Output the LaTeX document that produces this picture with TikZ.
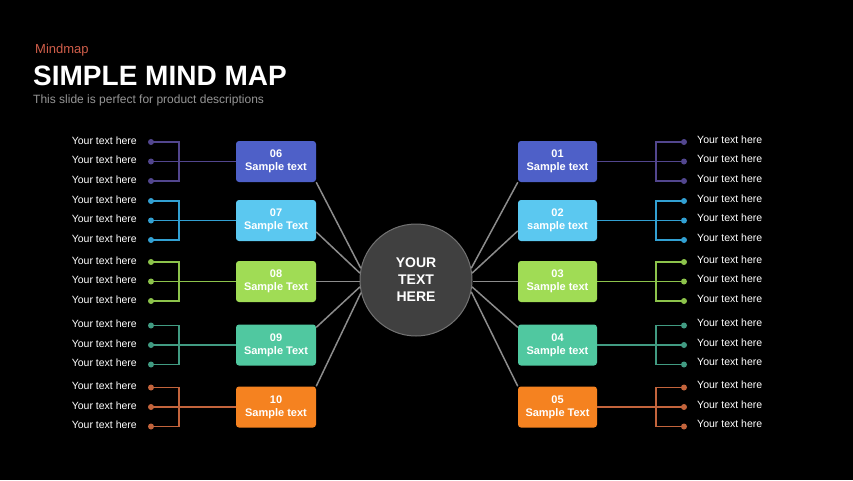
\documentclass[tikz,border=0pt]{standalone}
\usepackage{fontspec}
\setmainfont{Liberation Sans}
\usetikzlibrary{calc}
\definecolor{cAbox}{RGB}{78,96,200}
\definecolor{cAln}{RGB}{82,70,142}
\definecolor{cBbox}{RGB}{91,200,240}
\definecolor{cBln}{RGB}{50,160,210}
\definecolor{cCbox}{RGB}{160,220,85}
\definecolor{cCln}{RGB}{140,195,75}
\definecolor{cDbox}{RGB}{80,200,160}
\definecolor{cDln}{RGB}{65,155,130}
\definecolor{cEbox}{RGB}{245,130,32}
\definecolor{cEln}{RGB}{195,100,60}
\definecolor{spokegray}{RGB}{140,140,140}
\definecolor{hubfill}{RGB}{64,64,64}
\definecolor{hubdraw}{RGB}{115,115,115}
\definecolor{kicker}{RGB}{208,94,74}
\definecolor{subgray}{RGB}{150,150,150}
\tikzset{
  box/.style={rounded corners=3pt, minimum width=80pt, minimum height=41pt, inner sep=0pt,
    text=white, font=\bfseries\fontsize{11}{13}\selectfont, align=center},
  dotn/.style={circle, inner sep=0pt, minimum size=6pt},
  item/.style={text=white, font=\fontsize{10.5}{12}\selectfont, inner sep=0pt},
  spoke/.style={draw=spokegray, line width=1.5pt},
  branch/.style={line width=1.9pt},
}
\newcommand\leftgrp[5]{%
  \node[box, fill=#4] (b#1) at (276,#2) {#3};
  \foreach \k/\dy in {a/-19.5,b/0,c/19.5} {
    \node[dotn, fill=#5] (d#1\k) at (151,#2+\dy) {};
    \node[item, anchor=east] (t#1\k) at (137,#2+\dy-1.5) {Your text here};
  }
  \coordinate (k#1) at (179,#2);
  \draw[branch, draw=#5] (d#1a.center) -- (d#1a -| k#1) -- (d#1c -| k#1) -- (d#1c.center);
  \draw[branch, draw=#5] (d#1b.center) -- (b#1.west);
}
\newcommand\rightgrp[5]{%
  \node[box, fill=#4, minimum width=79pt] (b#1) at (557.5,#2) {#3};
  \foreach \k/\dy in {a/-19.5,b/0,c/19.5} {
    \node[dotn, fill=#5] (d#1\k) at (684,#2+\dy) {};
    \node[item, anchor=west] (t#1\k) at (697,#2+\dy-2.5) {Your text here};
  }
  \coordinate (k#1) at (656,#2);
  \draw[branch, draw=#5] (d#1a.center) -- (d#1a -| k#1) -- (d#1c -| k#1) -- (d#1c.center);
  \draw[branch, draw=#5] (d#1b.center) -- (b#1.east);
}
\begin{document}
\begin{tikzpicture}[x=1pt,y=-1pt]
\fill[black] (0,0) rectangle (853,480);
\useasboundingbox (0,0) rectangle (853,480);

\node[anchor=base west, inner sep=0pt, text=kicker, font=\fontsize{13}{15}\selectfont] (kick) at (35,53) {Mindmap};
\node[anchor=base west, inner sep=0pt, text=white, font=\bfseries\fontsize{28}{32}\selectfont] (title) at (33,85) {SIMPLE MIND MAP};
\node[anchor=base west, inner sep=0pt, text=subgray, font=\fontsize{12}{14}\selectfont] (sub) at (33,103.5) {This slide is perfect for product descriptions};

\node[circle, minimum size=112pt, inner sep=0pt, fill=hubfill, draw=hubdraw, line width=1pt,
  text=white, font=\bfseries\fontsize{14}{17}\selectfont, align=center] (hub) at (416,280) {YOUR\\TEXT\\HERE};

\leftgrp{06}{161.5}{06\\Sample text}{cAbox}{cAln}
\leftgrp{07}{220.5}{07\\Sample Text}{cBbox}{cBln}
\leftgrp{08}{281.5}{08\\Sample Text}{cCbox}{cCln}
\leftgrp{09}{345}{09\\Sample Text}{cDbox}{cDln}
\leftgrp{10}{407}{10\\Sample text}{cEbox}{cEln}

\rightgrp{01}{161.5}{01\\Sample text}{cAbox}{cAln}
\rightgrp{02}{220.5}{02\\sample text}{cBbox}{cBln}
\rightgrp{03}{281.5}{03\\Sample text}{cCbox}{cCln}
\rightgrp{04}{345}{04\\Sample text}{cDbox}{cDln}
\rightgrp{05}{407}{05\\Sample Text}{cEbox}{cEln}

\draw[spoke] (b06.south east) -- (hub.168);
\draw[spoke] ($(b07.east)!0.55!(b07.south east)$) -- (hub.173);
\draw[spoke] (b08.east) -- (b08.east -| hub.west);
\draw[spoke] ($(b09.east)!0.85!(b09.north east)$) -- (hub.187);
\draw[spoke] (b10.north east) -- (hub.193);

\draw[spoke] (b01.south west) -- (hub.12);
\draw[spoke] ($(b02.west)!0.5!(b02.south west)$) -- (hub.7);
\draw[spoke] (b03.west) -- (b03.west -| hub.east);
\draw[spoke] ($(b04.west)!0.85!(b04.north west)$) -- (hub.-7);
\draw[spoke] (b05.north west) -- (hub.-12);
\end{tikzpicture}
\end{document}
